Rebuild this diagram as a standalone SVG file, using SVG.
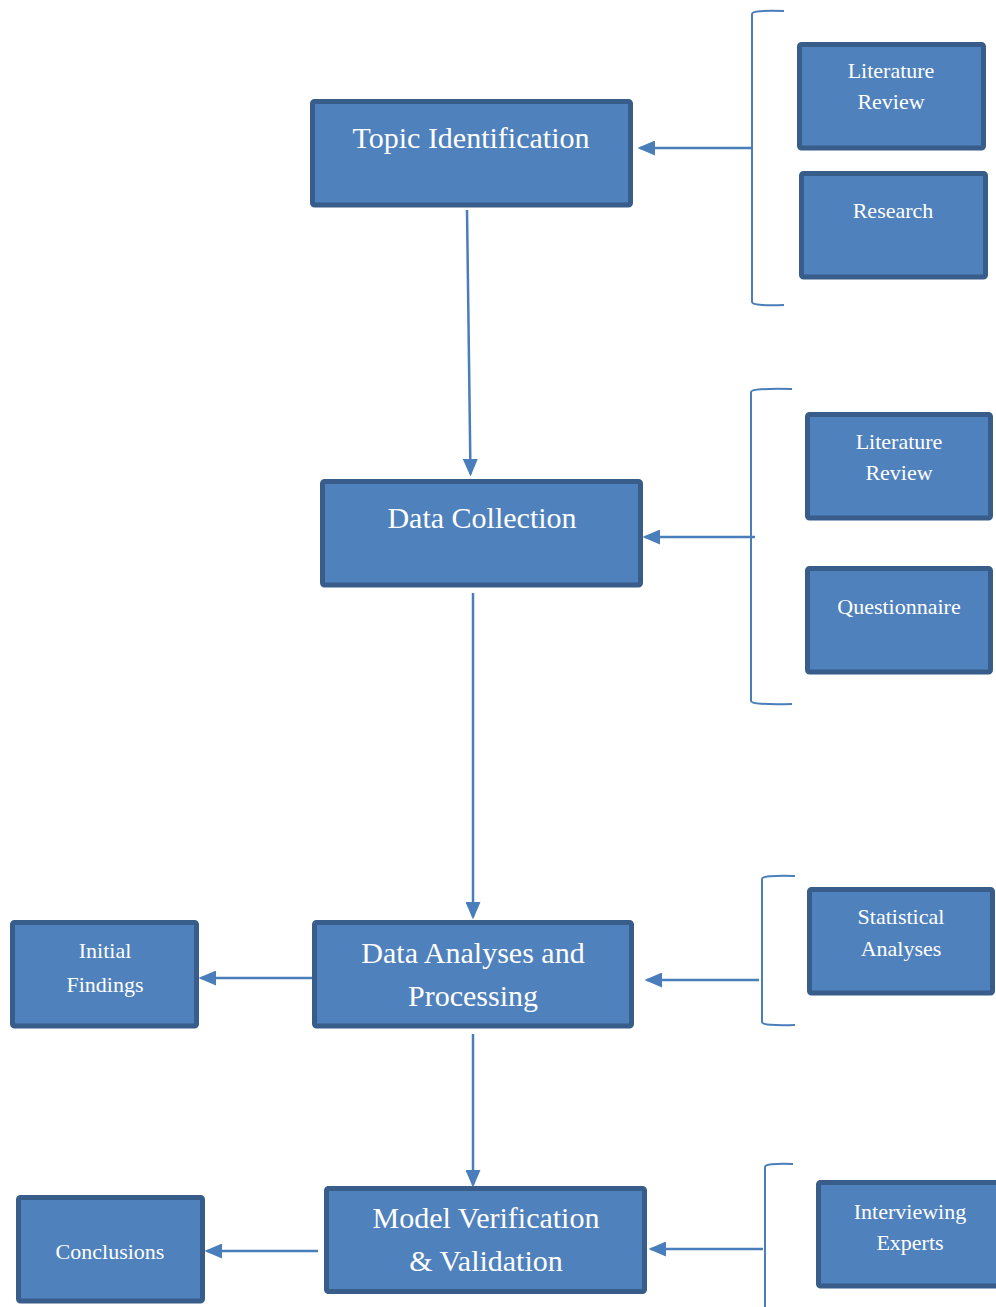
<svg xmlns="http://www.w3.org/2000/svg" width="996" height="1307" viewBox="0 0 996 1307" font-family="Liberation Serif, Times New Roman, serif">
<style>
.box{fill:#4F81BD;stroke:#385D8A;stroke-width:5}
.t{fill:#fff;text-anchor:middle}
.big{font-size:30px}
.sm{font-size:22px}
.c{fill:none;stroke:#4A7EBB;stroke-width:2.5}
.br{fill:none;stroke:#4A7EBB;stroke-width:2}
</style>
<defs>
<marker id="ah" markerWidth="7" markerHeight="6" refX="6" refY="3" orient="auto" markerUnits="strokeWidth">
<path d="M0,0 L7,3 L0,6 z" fill="#4A7EBB"/>
</marker>
</defs>
<rect width="996" height="1307" fill="#fff"/>
<g id="connectors">
<path class="br" d="M784,11 Q752,10 752,14 L752,302 Q752,306 784,305"/>
<line class="c" x1="752" y1="148" x2="640" y2="148" marker-end="url(#ah)"/>
<line class="c" x1="467" y1="210" x2="470.5" y2="474" marker-end="url(#ah)"/>
<path class="br" d="M792,389 Q751,388 751,392 L751,701 Q751,705 792,704"/>
<line class="c" x1="755" y1="537" x2="645" y2="537" marker-end="url(#ah)"/>
<line class="c" x1="473" y1="593" x2="473" y2="917" marker-end="url(#ah)"/>
<path class="br" d="M795,876 Q762,875 762,879 L762,1022 Q762,1026 795,1025"/>
<line class="c" x1="759" y1="980" x2="647" y2="980" marker-end="url(#ah)"/>
<line class="c" x1="312" y1="978" x2="201" y2="978" marker-end="url(#ah)"/>
<line class="c" x1="473" y1="1034" x2="473" y2="1185" marker-end="url(#ah)"/>
<path class="br" d="M793,1164 Q765,1163 765,1167 L765,1307"/>
<line class="c" x1="763" y1="1249" x2="651" y2="1249" marker-end="url(#ah)"/>
<line class="c" x1="318" y1="1251" x2="207" y2="1251" marker-end="url(#ah)"/>
</g>
<g id="topic">
<rect class="box" x="312.5" y="101.5" width="318" height="103.5" rx="2"/>
<text class="t big" x="471" y="148">Topic Identification</text>
</g>
<g id="litreview1">
<rect class="box" x="799.5" y="44.5" width="184" height="103.5" rx="2"/>
<text class="t sm" x="891" y="78">Literature</text>
<text class="t sm" x="891" y="109">Review</text>
</g>
<g id="research">
<rect class="box" x="801.5" y="173.5" width="184" height="103.5" rx="2"/>
<text class="t sm" x="893" y="218">Research</text>
</g>
<g id="datacollection">
<rect class="box" x="322.5" y="481.5" width="318" height="103.5" rx="2"/>
<text class="t big" x="482" y="528">Data Collection</text>
</g>
<g id="litreview2">
<rect class="box" x="807.5" y="414.5" width="183" height="103.5" rx="2"/>
<text class="t sm" x="899" y="449">Literature</text>
<text class="t sm" x="899" y="480">Review</text>
</g>
<g id="questionnaire">
<rect class="box" x="807.5" y="568.5" width="183" height="103.5" rx="2"/>
<text class="t sm" x="899" y="614">Questionnaire</text>
</g>
<g id="analyses">
<rect class="box" x="314.5" y="922.5" width="317" height="103.5" rx="2"/>
<text class="t big" x="473" y="963">Data Analyses and</text>
<text class="t big" x="473" y="1006">Processing</text>
</g>
<g id="initialfindings">
<rect class="box" x="12.5" y="922.5" width="184" height="103.5" rx="2"/>
<text class="t sm" x="105" y="958">Initial</text>
<text class="t sm" x="105" y="992">Findings</text>
</g>
<g id="statistical">
<rect class="box" x="809.5" y="889.5" width="183" height="103.5" rx="2"/>
<text class="t sm" x="901" y="924">Statistical</text>
<text class="t sm" x="901" y="956">Analyses</text>
</g>
<g id="model">
<rect class="box" x="326.5" y="1188.5" width="318" height="103" rx="2"/>
<text class="t big" x="486" y="1228">Model Verification</text>
<text class="t big" x="486" y="1271">&amp; Validation</text>
</g>
<g id="conclusions">
<rect class="box" x="18.5" y="1197.5" width="184" height="103.5" rx="2"/>
<text class="t sm" x="110" y="1259">Conclusions</text>
</g>
<g id="interviewing">
<rect class="box" x="818.5" y="1182.5" width="184" height="103.5" rx="2"/>
<text class="t sm" x="910" y="1219">Interviewing</text>
<text class="t sm" x="910" y="1250">Experts</text>
</g>
</svg>
